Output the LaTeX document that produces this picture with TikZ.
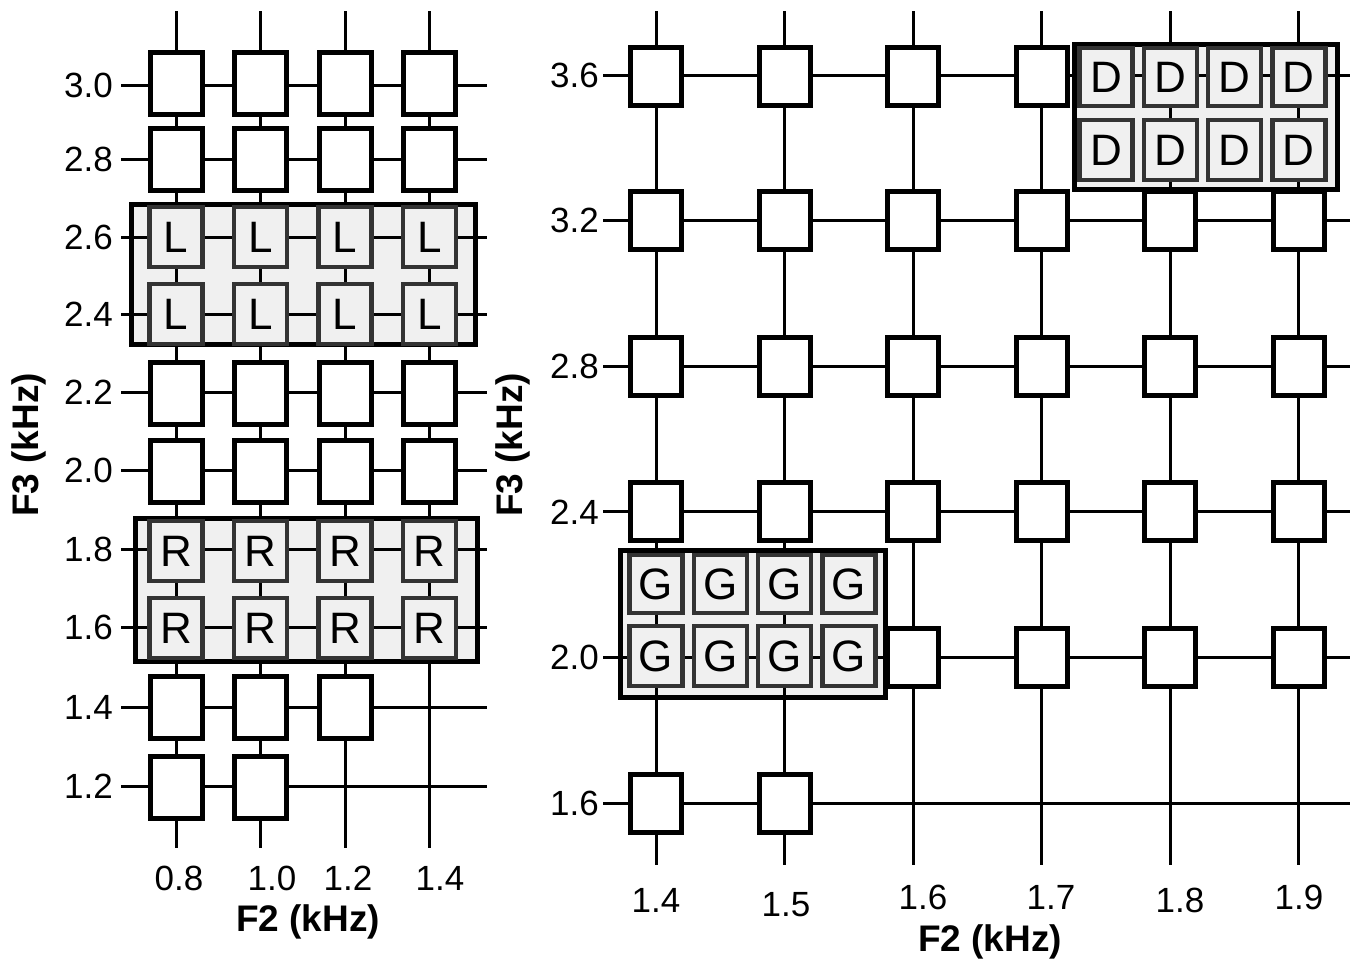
\documentclass[tikz,border=0pt]{standalone}
\usepackage{fontspec}
\setmainfont{Liberation Sans}
\usetikzlibrary{positioning}
\definecolor{grigio}{gray}{0.94}
\tikzset{
  cella/.style={draw,line width=5pt,fill=white,inner sep=0pt,minimum width=52pt,minimum height=62pt},
  cellag/.style={draw=black!80,line width=4.5pt,fill=grigio,inner sep=0pt,minimum width=53pt,minimum height=60pt,font=\fontsize{44}{48}\selectfont},
  gruppo/.style={draw,line width=5pt,fill=grigio,inner sep=0pt},
  griglia/.style={line width=3pt},
  tacca/.style={font=\fontsize{35}{40}\selectfont,inner sep=0pt},
  asse/.style={font=\fontsize{37}{42}\selectfont\bfseries,inner sep=0pt}
}

\begin{document}
\begin{tikzpicture}[x=1pt,y=-1pt]
\useasboundingbox (0,0) rectangle (1362,964);

% pannello sinistro
\node[gruppo,minimum width=344pt,minimum height=140pt] (gruppoL) at (303.5,274.5) {};
\node[gruppo,minimum width=342pt,minimum height=143pt] (gruppoR) at (306.5,590) {};

\foreach \j/\y/\v in {1/85/3.0,2/159/2.8,3/237/2.6,4/314/2.4,5/392/2.2,6/470/2.0,7/549/1.8,8/627/1.6,9/707/1.4,10/786/1.2} {
  \draw[griglia] (121,\y) -- (487,\y);
  \node[tacca,anchor=east] (tsx-\j) at (113,\y) {\v};
}
\foreach \i/\x in {1/176,2/260.5,3/345,4/429.5}
  \draw[griglia] (\x,11) -- (\x,848);

\foreach \j/\y in {1/83,2/159,5/393,6/471}
  \foreach \i/\x in {1/176,2/260.5,3/345,4/429.5}
    \node[cella] (sx-\i-\j) at (\x,\y) {};
\foreach \i/\x in {1/176,2/260.5,3/345}
  \node[cella] (sx-\i-9) at (\x,707) {};
\foreach \i/\x in {1/176,2/260.5}
  \node[cella] (sx-\i-10) at (\x,787) {};
\foreach \j/\y/\t in {3/237/L,4/314/L,7/551/R,8/628/R}
  \foreach \i/\x in {1/176,2/260.5,3/345,4/429.5}
    \node[cellag] (sx-\i-\j) at (\x,\y) {\t};

\foreach \i/\x/\v in {1/179/0.8,2/272/1.0,3/348/1.2,4/440/1.4}
  \node[tacca] (bsx-\i) at (\x,878) {\v};
\node[asse] (f2sx) at (308,922) {F2 (kHz)};
\node[asse,rotate=90] (f3sx) at (29,445) {F3 (kHz)};

% pannello destro
\node[gruppo,minimum width=263pt,minimum height=145pt] (gruppoD) at (1206,117) {};
\node[gruppo,minimum width=265pt,minimum height=147pt] (gruppoG) at (753,624) {};

\foreach \j/\v in {0/3.6,1/3.2,2/2.8,3/2.4,4/2.0,5/1.6} {
  \draw[griglia] (603,{75+145.6*\j}) -- (1350,{75+145.6*\j});
  \node[tacca,anchor=east] (tdx-\j) at (599,{75+145.6*\j}) {\v};
}
\foreach \i in {0,...,5}
  \draw[griglia] ({656+128.5*\i},11) -- ({656+128.5*\i},865);

\foreach \i in {0,...,3}
  \node[cella,minimum width=51pt,minimum height=58pt] (dx-\i-0) at ({656+128.5*\i},76) {};
\foreach \j in {1,2,3}
  \foreach \i in {0,...,5}
    \node[cella,minimum width=51pt,minimum height=58pt] (dx-\i-\j) at ({656+128.5*\i},{75+145.6*\j}) {};
\foreach \i in {2,...,5}
  \node[cella,minimum width=51pt,minimum height=58pt] (dx-\i-4) at ({656+128.5*\i},657) {};
\foreach \i in {0,1}
  \node[cella,minimum width=51pt,minimum height=58pt] (dx-\i-5) at ({656+128.5*\i},803) {};

\foreach \k in {0,...,3} {
  \node[cellag,minimum height=58pt] (d-\k-1) at ({1106+64.25*\k},77) {D};
  \node[cellag,minimum height=60pt] (d-\k-2) at ({1106+64.25*\k},150) {D};
  \node[cellag,minimum height=58pt] (g-\k-1) at ({656+64.25*\k},584) {G};
  \node[cellag,minimum height=60pt] (g-\k-2) at ({656+64.25*\k},656) {G};
}

\foreach \i/\x/\y/\v in {0/656/900/1.4,1/786/905/1.5,2/923/897/1.6,3/1051/897/1.7,4/1180/900/1.8,5/1299/897/1.9}
  \node[tacca] (bdx-\i) at (\x,\y) {\v};
\node[asse] (f2dx) at (990,942) {F2 (kHz)};
\node[asse,rotate=90] (f3dx) at (513,445) {F3 (kHz)};
\end{tikzpicture}
\end{document}
